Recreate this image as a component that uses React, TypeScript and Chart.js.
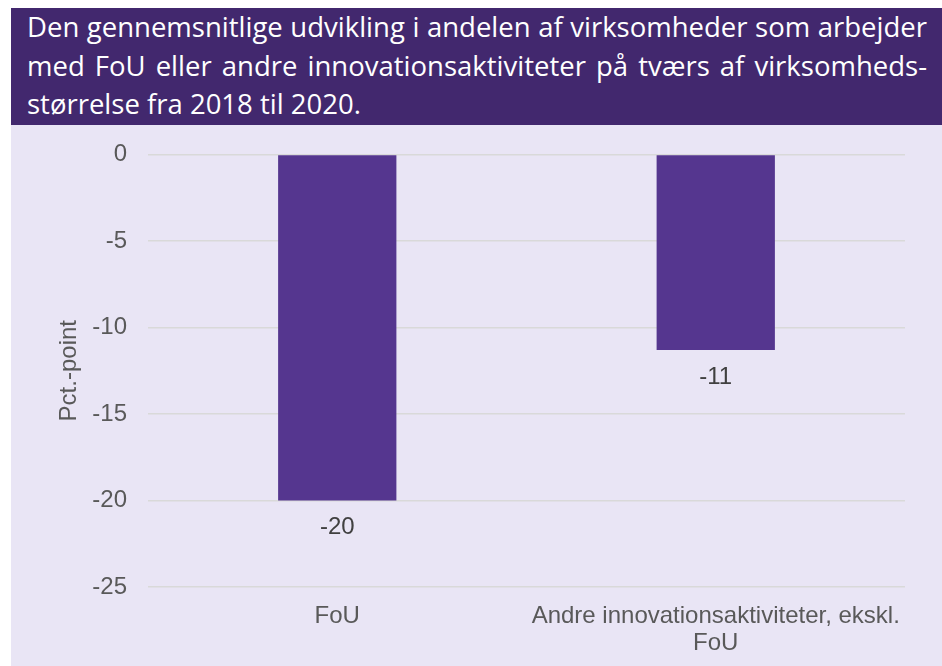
import React, { useEffect, useRef } from "react";
import { Chart, registerables } from "chart.js";

Chart.register(...registerables);

const titleLines: string[] = [
  "Den gennemsnitlige udvikling i andelen af virksomheder som arbejder",
  "med FoU eller andre innovationsaktiviteter på tværs af virksomheds-",
  "størrelse fra 2018 til 2020.",
];
const categories: (string | string[])[] = [
  "FoU",
  ["Andre innovationsaktiviteter, ekskl.", "FoU"],
];
const values: number[] = [-20.0, -11.3];
const yAxisTitle = "Pct.-point";
const yMin = -25;
const yMax = 0;
const yStep = 5;

const FONT = "'Liberation Sans', Arial, sans-serif";

const valueLabels = {
  id: "valueLabels",
  afterDatasetsDraw(chart: any) {
    const { ctx } = chart;
    const meta = chart.getDatasetMeta(0);
    ctx.save();
    ctx.font = `24px ${FONT}`;
    ctx.fillStyle = "#404040";
    ctx.textAlign = "center";
    ctx.textBaseline = "middle";
    meta.data.forEach((bar: any, i: number) => {
      ctx.fillText(String(Math.round(values[i])), bar.x, bar.y + 27);
    });
    ctx.restore();
  },
};

export default function App() {
  const ref = useRef<HTMLCanvasElement | null>(null);
  useEffect(() => {
    if (!ref.current) return;
    const chart = new Chart(ref.current, {
      type: "bar",
      data: {
        labels: categories as any,
        datasets: [
          {
            data: values,
            backgroundColor: "#55368f",
            borderWidth: 0,
            barPercentage: 0.3125,
            categoryPercentage: 1,
          },
        ],
      },
      options: {
        responsive: false,
        animation: false,
        layout: { padding: { top: 0, right: 37, left: 0, bottom: 0 } },
        plugins: {
          legend: { display: false },
          tooltip: { enabled: false },
        },
        scales: {
          x: {
            grid: { display: false, drawTicks: false },
            border: { display: false },
            ticks: {
              color: "#595959",
              font: { family: FONT, size: 24, lineHeight: 1.12 },
              padding: 16,
              maxRotation: 0,
              autoSkip: false,
            },
            afterFit(scale: any) {
              scale.height = 78;
            },
          },
          y: {
            min: yMin,
            max: yMax,
            grid: {
              color: "#d9d9d9",
              lineWidth: 1.5,
              drawTicks: false,
            },
            border: { display: false },
            ticks: {
              stepSize: yStep,
              color: "#595959",
              font: { family: FONT, size: 24 },
              padding: 21,
            },
            title: {
              display: true,
              text: yAxisTitle,
              color: "#595959",
              font: { family: FONT, size: 24, lineHeight: 1.2 },
              padding: { top: 44, bottom: 0 },
            },
            afterFit(scale: any) {
              scale.width = 137;
            },
          },
        },
      },
      plugins: [valueLabels],
    });
    return () => chart.destroy();
  }, []);

  return (
    <div
      style={{
        position: "absolute",
        left: 11,
        top: 8,
        width: 931,
        height: 658,
        background: "#e9e5f5",
        overflow: "hidden",
      }}
    >
      <div
        style={{
          height: 117,
          background: "#42286e",
          color: "#ffffff",
          fontFamily: "'Open Sans', 'Noto Sans', sans-serif",
          fontSize: 27.5,
          lineHeight: "38.5px",
          padding: "0 15px 0 16px",
          boxSizing: "border-box",
        }}
      >
        {titleLines.map((line, i) => (
          <div
            key={i}
            style={{
              whiteSpace: "nowrap",
              textAlign: "justify",
              textAlignLast: i < titleLines.length - 1 ? "justify" : "left",
            }}
          >
            {line}
          </div>
        ))}
      </div>
      <canvas
        ref={ref}
        width={931}
        height={546}
        style={{ display: "block", position: "absolute", left: 0, top: 111 }}
      />
    </div>
  );
}
